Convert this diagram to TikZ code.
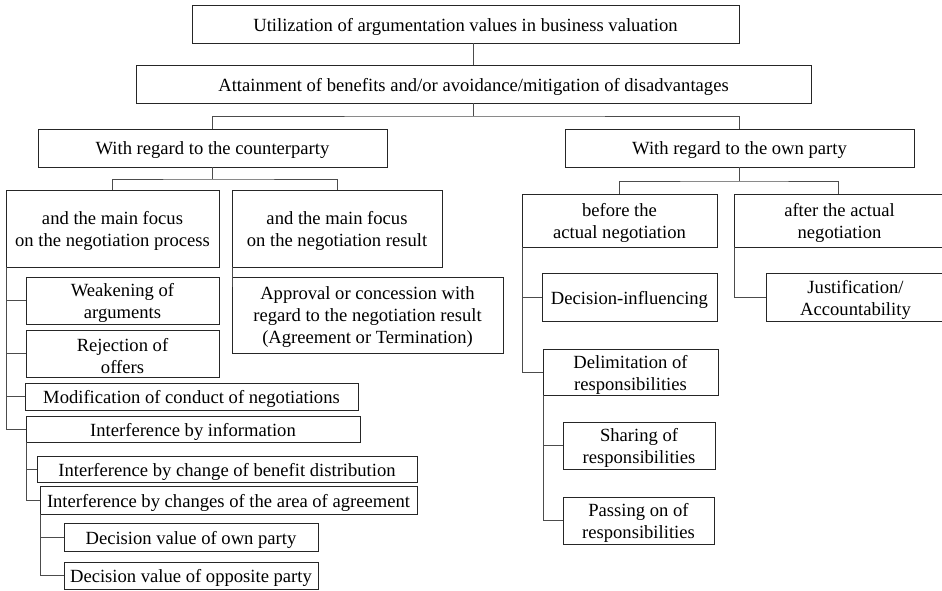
\documentclass[tikz,border=0pt]{standalone}
\usepackage{fontspec}
\setmainfont{Liberation Serif}
\usetikzlibrary{calc}
\tikzset{
  box/.style={draw=black!85, line width=0.9pt, inner sep=0pt, outer sep=0pt, anchor=north west},
  txt/.style={inner sep=0pt, align=center, font=\fontsize{18.6}{22}\selectfont},
  conn/.style={draw=black!70, line width=0.9pt}
}
\newcommand\bx[6]{\node[box,minimum width={(#4-#2)*1pt},minimum height={(#5-#3)*1pt}] (#1) at (#2,#3) {};
  \node[txt] (#1-t) at ([yshift=-2.5pt]#1.center) {#6};}
\begin{document}
\begin{tikzpicture}[x=1pt,y=-1pt]
\useasboundingbox (0,0) rectangle (942,590);
% level 0-1
\bx{top}{192}{5}{739}{43}{Utilization of argumentation values in business valuation}
\bx{attain}{136}{65}{811}{103}{Attainment of benefits and/or avoidance/mitigation of disadvantages}
% level 2
\bx{cp}{38}{129}{387}{167}{With regard to the counterparty}
\bx{op}{565}{129}{914}{167}{With regard to the own party}
% counterparty children
\bx{proc}{6}{190}{219}{267}{and the main focus\\on the negotiation process}
\bx{res}{232}{190}{442}{267}{and the main focus\\on the negotiation result}
\bx{weak}{26}{277}{219}{324}{Weakening of\\arguments}
\bx{rej}{26}{330}{219}{377}{Rejection of\\offers}
\bx{modi}{25}{383}{358}{410}{Modification of conduct of negotiations}
\bx{info}{26}{416}{360}{442}{Interference by information}
\bx{bene}{37}{456}{417}{482}{Interference by change of benefit distribution}
\bx{area}{40}{486}{417}{514}{Interference by changes of the area of agreement}
\bx{dvown}{64}{523}{318}{551}{Decision value of own party}
\bx{dvopp}{64}{562}{318}{589}{Decision value of opposite party}
\bx{appr}{232}{277}{503}{353}{Approval or concession with\\regard to the negotiation result\\(Agreement or Termination)}
% own party children
\bx{before}{522}{194}{717}{247}{before the\\actual negotiation}
\bx{after}{734}{194}{945}{247}{after the actual\\negotiation}
\bx{dinf}{542}{273}{717}{321}{Decision-influencing}
\bx{delim}{543}{349}{718}{395}{Delimitation of\\responsibilities}
\bx{share}{563}{422}{715}{469}{Sharing of\\responsibilities}
\bx{pass}{563}{497}{714}{544}{Passing on of\\responsibilities}
\bx{just}{766}{273}{945}{321}{Justification/\\Accountability}
% connectors
\coordinate (j1) at ($(attain.south)+(0,13)$);
\draw[conn] (top.south -| attain.north) -- (attain.north);
\draw[conn] (attain.south) -- (j1);
\draw[conn] (cp.north) |- (j1) -| (op.north);
\coordinate (j2) at ($(cp.south)+(0,12)$);
\draw[conn] (cp.south) -- (j2);
\draw[conn] (proc.north) |- (j2) -| (res.north);
\coordinate (j3) at ($(op.south)+(0,14)$);
\draw[conn] (op.south) -- (j3);
\draw[conn] (before.north) |- (j3) -| ([xshift=-1.5pt]after.north);
% process trunk
\draw[conn] (proc.south west) |- (info.west);
\draw[conn] (proc.south west |- weak.west) -- (weak.west);
\draw[conn] (proc.south west |- rej.west) -- (rej.west);
\draw[conn] (proc.south west |- modi.west) -- (modi.west);
% info trunk
\draw[conn] (info.south west) |- (area.west);
\draw[conn] (info.south west |- bene.west) -- (bene.west);
% area trunk
\draw[conn] (area.south west) |- (dvopp.west);
\draw[conn] (area.south west |- dvown.west) -- (dvown.west);
% result
\draw[conn] (res.south west) -- ([yshift=-10pt]appr.north west);
% before trunk
\draw[conn] (before.south west) |- (delim.west);
\draw[conn] (before.south west |- dinf.west) -- (dinf.west);
% delim trunk
\draw[conn] (delim.south west) |- (pass.west);
\draw[conn] (delim.south west |- share.west) -- (share.west);
% after
\draw[conn] (after.south west) |- (just.west);
\end{tikzpicture}
\end{document}
